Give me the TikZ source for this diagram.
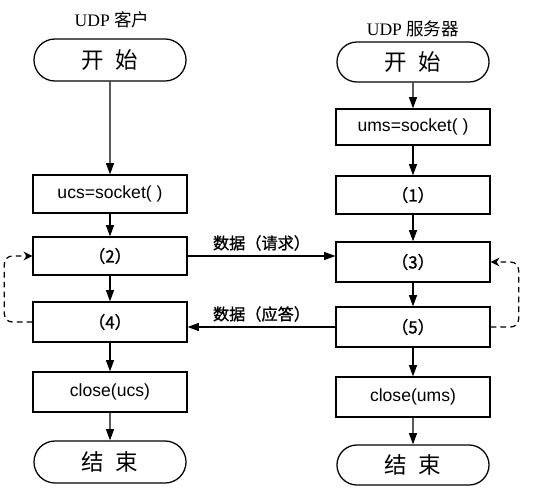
\documentclass[tikz,border=0pt]{standalone}
\usepackage{fontspec}
\setmainfont{Liberation Serif}
\setsansfont{Liberation Sans}
\newfontfamily\cjk{Noto Sans CJK SC}
\newfontfamily\cjkb[FakeBold=1.2]{Noto Sans CJK SC}
\usetikzlibrary{shapes.misc,arrows.meta}

\begin{document}
\begin{tikzpicture}[x=0.025cm,y=-0.025cm,
    box/.style={draw,line width=0.9pt,minimum width=3.85cm,minimum height=0.95cm,inner sep=0pt,font=\sffamily\fontsize{12.5}{14}\selectfont},
    numbox/.style={box,font=\cjkb\fontsize{12}{14}\selectfont},
    term/.style={draw,rounded rectangle,line width=0.9pt,minimum width=3.8cm,minimum height=1.05cm,inner sep=0pt,font=\cjk\fontsize{16}{18}\selectfont},
    flow/.style={-{Triangle[length=2.8mm,width=2mm]},line width=0.9pt},
    back/.style={line width=0.9pt,dash pattern=on 4pt off 3pt,rounded corners=2mm,-{Stealth[length=2.2mm,width=2.2mm]}},
    data/.style={font=\cjkb\fontsize{11.5}{13}\selectfont}]
    \useasboundingbox (0,0) rectangle (548,489);

    \begin{scope}
        \node[font=\fontsize{12.5}{14}\selectfont] (clabel) at (112,20) {UDP {\cjk 客户}};
        \node[term] (cstart) at (110,60) {开\hspace{0.5em}始};
        \node[box] (cusock) at (110,194) {ucs=socket( )};
        \node[numbox] (c2) at (110,256) {（2）};
        \node[numbox,minimum height=1cm] (c4) at (110,322) {（4）};
        \node[box,minimum height=1cm] (cclose) at (110,392) {close(ucs)};
        \node[term] (cend) at (110,462) {结\hspace{0.5em}束};

        \draw[flow] (cstart) -- (cusock);
        \draw[flow] (cusock) -- (c2);
        \draw[flow] (c2) -- (c4);
        \draw[flow] (c4) -- (cclose);
        \draw[flow] (cclose) -- (cend);
        \draw[back] (c4.west) -- ++(-28,0) |- (c2.west);
    \end{scope}

    \begin{scope}
        \node[font=\fontsize{12.5}{14}\selectfont] (slabel) at (413,29) {UDP {\cjk 服务器}};
        \node[term,minimum height=1cm] (sstart) at (413,62) {开\hspace{0.5em}始};
        \node[box,minimum height=0.9cm] (susock) at (413,127) {ums=socket( )};
        \node[numbox] (s1) at (413,195) {（1）};
        \node[numbox,minimum height=1cm] (s3) at (413,262) {（3）};
        \node[numbox,minimum height=1cm] (s5) at (413,327) {（5）};
        \node[box,minimum height=1cm] (sclose) at (413,397) {close(ums)};
        \node[term,minimum height=1cm] (send) at (413,465) {结\hspace{0.5em}束};

        \draw[flow] (sstart) -- (susock);
        \draw[flow] (susock) -- (s1);
        \draw[flow] (s1) -- (s3);
        \draw[flow] (s3) -- (s5);
        \draw[flow] (s5) -- (sclose);
        \draw[flow] (sclose) -- (send);
        \draw[back] (s5.east) -- ++(28,0) |- (s3.east);
    \end{scope}

    \draw[flow] (c2.east) -- node[data,above] {数据（请求）} (c2.east -| s3.west);
    \draw[flow] (s5.west) -- node[data,above] {数据（应答）} (s5.west -| c4.east);
\end{tikzpicture}
\end{document}
